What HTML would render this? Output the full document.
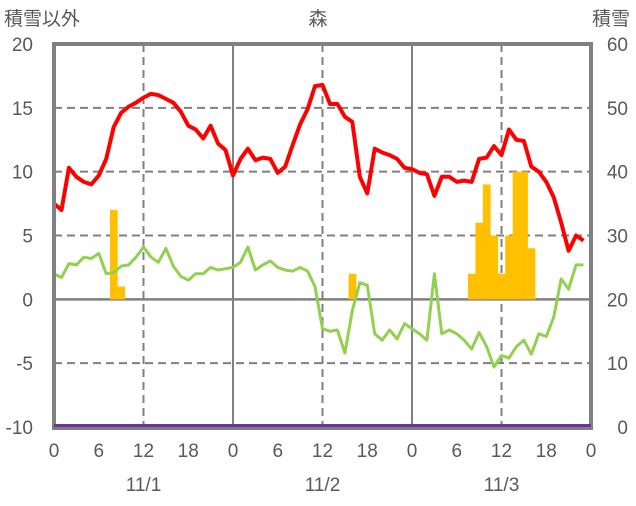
<!DOCTYPE html>
<html><head><meta charset="utf-8"><style>
body{margin:0;background:#fff;}
svg text{font-family:"Liberation Sans","Noto Sans CJK JP",sans-serif;fill:#595959;font-size:19px;}
</style></head><body>
<svg id="chart" width="636" height="501" xmlns="http://www.w3.org/2000/svg">
<g id="grid"></g><g id="bars"></g><g id="lines"></g><g id="frame"></g><g id="labels"></g>
</svg>
<script>
const hours=[...Array(73).keys()];
const redVals=[7.5,7.0,10.3,9.6,9.2,9.0,9.7,11.0,13.5,14.6,15.1,15.4,15.8,16.1,16.0,15.7,15.4,14.7,13.6,13.3,12.6,13.6,12.2,11.7,9.7,11.0,11.8,10.9,11.1,11.0,9.9,10.4,12.1,13.7,14.9,16.7,16.8,15.3,15.3,14.3,13.9,9.6,8.3,11.8,11.5,11.3,11.0,10.3,10.2,9.9,9.8,8.1,9.6,9.6,9.2,9.3,9.2,11.0,11.1,12.0,11.3,13.3,12.5,12.4,10.4,10.0,9.2,8.0,6.0,3.8,5.0,4.6];
const greenVals=[2.0,1.7,2.8,2.7,3.3,3.2,3.6,2.0,2.1,2.6,2.7,3.3,4.1,3.3,2.9,4.0,2.6,1.8,1.5,2.0,2.0,2.5,2.3,2.4,2.5,2.9,4.1,2.3,2.7,3.0,2.5,2.3,2.2,2.5,2.2,1.0,-2.3,-2.5,-2.4,-4.2,-0.9,1.3,1.1,-2.7,-3.2,-2.4,-3.1,-1.9,-2.3,-2.7,-3.2,2.0,-2.7,-2.4,-2.7,-3.2,-3.9,-2.6,-3.7,-5.3,-4.4,-4.6,-3.7,-3.2,-4.3,-2.7,-2.9,-1.4,1.6,0.8,2.7,2.7];
const snowDepth=new Array(73).fill(0);
const barHours=[8,9,40,56,57,58,59,60,61,62,63,64];
const barVals=[7,1,2,2,6,9,5,2,5,10,10,4];
const leftTicks=[20,15,10,5,0,-5,-10];
const rightTicks=[60,50,40,30,20,10,0];
const xTickHours=[0,6,12,18,24,30,36,42,48,54,60,66,72];
const xTickLabels=["0","6","12","18","0","6","12","18","0","6","12","18","0"];
const dayLabels=["11/1","11/2","11/3"];

const X0=54,X1=591,Y0=427,Y1=44;
const x=h=>X0+(X1-X0)*h/72;
const yL=v=>Y0-(v+10)/30*(Y0-Y1);
const yR=v=>Y0-v/60*(Y0-Y1);
const NS="http://www.w3.org/2000/svg";
function mk(tag,attrs,parent){const e=document.createElementNS(NS,tag);for(const k in attrs)e.setAttribute(k,attrs[k]);document.getElementById(parent).appendChild(e);return e;}

[15,10,5,-5].forEach(v=>{const e=mk('line',{x1:X0,x2:X1,y1:yL(v),y2:yL(v),stroke:'#808080','stroke-width':2,'stroke-dasharray':'8,5'},'grid');

});
[12,36,60].forEach(h=>{const e=mk('line',{x1:x(h),x2:x(h),y1:Y1,y2:Y0,stroke:'#808080','stroke-width':2,'stroke-dasharray':'8,5'},'grid');

});
[24,48].forEach(h=>{const e=mk('line',{x1:x(h),x2:x(h),y1:Y1,y2:Y0,stroke:'#808080','stroke-width':2},'grid');

});
let z=mk('line',{x1:X0,x2:X1,y1:yL(0),y2:yL(0),stroke:'#808080','stroke-width':2.5},'grid');



const bw=(X1-X0)/72;
barHours.forEach((h,i)=>{const e=mk('rect',{x:x(h)-bw/2,y:yL(barVals[i]),width:bw+0.3,height:yL(0)-yL(barVals[i]),fill:'#FFC000'},'bars');

});

function path(vals,f,dy){dy=dy||0;return vals.map((v,i)=>(i?'L':'M')+x(hours[i]).toFixed(1)+','+(f(v)+dy).toFixed(1)).join('');}
let g=mk('path',{d:path(greenVals,yL),fill:'none',stroke:'#92D050','stroke-width':3,'stroke-linejoin':'round'},'lines');


let r=mk('path',{d:path(redVals,yL),fill:'none',stroke:'#FF0000','stroke-width':4,'stroke-linejoin':'round'},'lines');



let fr=mk('path',{d:`M${X0},${Y0}L${X0},${Y1}L${X1},${Y1}L${X1},${Y0}`,fill:'none',stroke:'#808080','stroke-width':4},'frame');


let bx=mk('line',{x1:X0-2,x2:X1+2,y1:Y0+1.5,y2:Y0+1.5,stroke:'#808080','stroke-width':3},'frame');


let p=mk('path',{d:path(snowDepth,yR,-1.5),fill:'none',stroke:'#7030A0','stroke-width':3},'frame');



function txt(s,ax,ay,anchor,name){const e=mk('text',{x:ax,y:ay,'text-anchor':anchor},'labels');e.textContent=s;

}
leftTicks.forEach(v=>txt(String(v),33,yL(v)+7,'end','left-tick-label'));
rightTicks.forEach(v=>txt(String(v),628,yR(v)+7,'end','right-tick-label'));
xTickHours.forEach((h,i)=>txt(xTickLabels[i],x(h),457,'middle','x-tick-label'));
dayLabels.forEach((d,i)=>txt(d,x(12+24*i),491,'middle','date-label'));
txt('積雪以外',4,25,'start','left-axis-title');
txt('森',318,25,'middle','chart-title');
txt('積雪',630,25,'end','right-axis-title');
</script>
</body></html>
